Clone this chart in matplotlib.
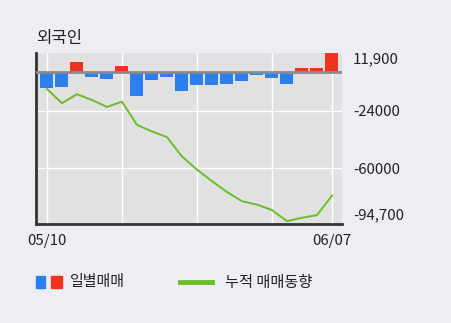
import matplotlib
matplotlib.use("Agg")
import matplotlib.pyplot as plt
import matplotlib.transforms as mtransforms
from matplotlib.patches import Rectangle
from matplotlib.lines import Line2D

plt.rcParams['font.family'] = ['Noto Sans CJK KR', 'DejaVu Sans']

title = "외국인"
dates = ["05/10", "06/07"]
daily = [-10100, -9300, 6200, -3100, -4300, 3700, -14900, -5000, -3100, -11800,
         -8100, -8100, -7200, -5600, -1900, -3700, -7500, 2300, 2300, 11600]
cumulative = [-10500, -19400, -13800, -17400, -21700, -18400, -32900, -37000, -40500, -52600,
              -60800, -68000, -74700, -80500, -82600, -86000, -92900, -90800, -89200, -77000]
yticks = [11900, -24000, -60000, -94700]
ytick_labels = ["11,900", "-24000", "-60000", "-94,700"]
legend_labels = ["일별매매", "누적 매매동향"]

blue = "#2b7ff0"
red = "#ef3320"
green = "#6cbd2c"
figbg = "#eceef2"
axbg = "#e1e1e1"

fig = plt.figure(figsize=(4.51, 3.23), dpi=100, facecolor=figbg)
W, H = 451, 323
ax = fig.add_axes([36 / W, 1 - 224 / H, (342 - 36) / W, (224 - 53) / H])
ax.set_facecolor(axbg)

n = len(daily)
x = list(range(n))
colors = [red if v > 0 else blue for v in daily]
ax.bar(x, daily, width=0.87, color=colors, zorder=3)
ax.plot(x, cumulative, color=green, lw=1.4, zorder=4)
ax.axhline(0, color="#8a8a8a", lw=2, zorder=3.5)

ax.set_xlim(-0.73, n - 1 + 0.67)
ax.set_ylim(yticks[-1], yticks[0])

# grid
for gx in [0, 5, 10, 15, n - 1]:
    ax.axvline(gx, color="white", lw=1, zorder=1)
for gy in yticks[1:-1]:
    ax.axhline(gy, color="white", lw=1, zorder=1)

ax.set_xticks([0, n - 1])
ax.set_xticklabels(dates)
ax.yaxis.tick_right()
ax.set_yticks(yticks)
ax.set_yticklabels(ytick_labels)
ax.tick_params(axis='both', length=0, labelsize=10.8, colors="#222222")
ax.tick_params(axis='y', pad=8)
ax.tick_params(axis='x', pad=7)

labs = ax.get_yticklabels()
labs[0].set_transform(labs[0].get_transform() + mtransforms.ScaledTranslation(0, -5 / 100, fig.dpi_scale_trans))
labs[-1].set_transform(labs[-1].get_transform() + mtransforms.ScaledTranslation(0, 10 / 100, fig.dpi_scale_trans))

for s in ["top", "right"]:
    ax.spines[s].set_visible(False)
ax.spines["left"].set_color("#333333")
ax.spines["left"].set_linewidth(2)
ax.spines["bottom"].set_color("#333333")
ax.spines["bottom"].set_linewidth(2)

fig.text(36 / W, 1 - 38 / H, title, fontsize=12, va="center", ha="left", color="#222222")

# legend
fig.patches.append(Rectangle((36 / W, 1 - 288 / H), 9 / W, 12 / H, transform=fig.transFigure,
                             color=blue, figure=fig))
fig.patches.append(Rectangle((51 / W, 1 - 288 / H), 11 / W, 12 / H, transform=fig.transFigure,
                             color=red, figure=fig))
fig.text(70 / W, 1 - 282 / H, legend_labels[0], fontsize=10.8, va="center", ha="left", color="#222222")
fig.lines.append(Line2D([180 / W, 212 / W], [1 - 282 / H, 1 - 282 / H], transform=fig.transFigure,
                        color=green, lw=3.5, figure=fig))
fig.text(225 / W, 1 - 282 / H, legend_labels[1], fontsize=11, va="center", ha="left", color="#222222")

fig.savefig("out.png", dpi=100, facecolor=figbg)
